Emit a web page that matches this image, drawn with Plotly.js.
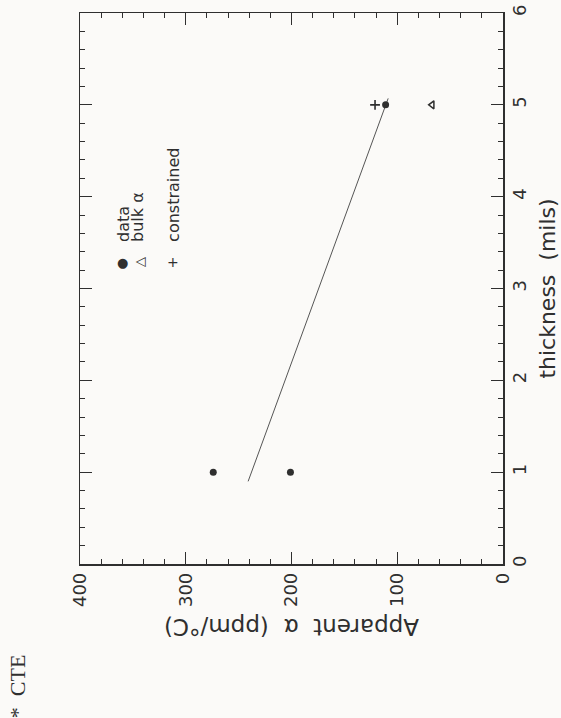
<!DOCTYPE html>
<html>
<head>
<meta charset="utf-8">
<script src="https://cdn.plot.ly/plotly-3.0.1.min.js"></script>
<style>
  html, body { margin: 0; padding: 0; background: #fbfaf8; }
  #chart { width: 561px; height: 718px; }
</style>
</head>
<body>
<div id="chart"></div>
<script>
// thickness (mils) and apparent alpha (ppm/°C)
var dataThickness = [1, 1, 5];
var dataAlpha = [274, 201, 111];
var bulkThickness = [5];
var bulkAlpha = [67];
var constrThickness = [5];
var constrAlpha = [121];
var fitThickness = [0.9, 5.07];
var fitAlpha = [241, 108.6];
var alphaTicks = [0, 100, 200, 300, 400];
var thickTicks = [0, 1, 2, 3, 4, 5, 6];
var legendNames = ['data', 'bulk α', 'constrained'];

var ink = '#2f2f2f';
var font = 'DejaVu Sans, sans-serif';

var traces = [
  { x: fitAlpha, y: fitThickness, mode: 'lines', line: { color: '#555', width: 1 }, hoverinfo: 'skip' },
  { x: dataAlpha, y: dataThickness, mode: 'markers', name: legendNames[0],
    marker: { symbol: 'circle', size: 7, color: ink } },
  { x: bulkAlpha, y: bulkThickness, mode: 'markers', name: legendNames[1],
    marker: { symbol: 'triangle-left-open', size: 7, color: ink, line: { width: 1.5, color: ink } } },
  { x: constrAlpha, y: constrThickness, mode: 'markers', name: legendNames[2],
    marker: { symbol: 'cross-thin-open', size: 7, color: ink, line: { width: 1.6, color: ink } } }
];

var axisCommon = {
  showline: true, linecolor: ink, linewidth: 1.5, mirror: 'allticks',
  ticks: 'inside', ticklen: 12, tickwidth: 1.2, tickcolor: ink,
  showgrid: false, zeroline: false,
  tickfont: { family: font, size: 18, color: ink },
  tickangle: -90
};

var layout = {
  width: 561, height: 718,
  paper_bgcolor: '#fbfaf8', plot_bgcolor: '#fbfaf8',
  margin: { l: 80, r: 58, t: 13, b: 154 },
  showlegend: false,
  xaxis: Object.assign({}, axisCommon, {
    range: [400, 0], tickvals: alphaTicks, ticktext: alphaTicks.map(String),
    minor: { dtick: 20, ticks: 'inside', ticklen: 5, tickwidth: 1, tickcolor: ink }
  }),
  yaxis: Object.assign({}, axisCommon, {
    side: 'right', range: [0, 6], tickvals: thickTicks, ticktext: thickTicks.map(String),
    minor: { dtick: 0.2, ticks: 'inside', ticklen: 5, tickwidth: 1, tickcolor: ink },
    title: { text: 'thickness  (mils)', font: { family: font, size: 22, color: ink }, standoff: 10 }
  }),
  annotations: [
    { xref: 'paper', yref: 'paper', x: 0.5, y: -0.114, xanchor: 'center', yanchor: 'middle',
      text: 'Apparent  α  (ppm/°C)', textangle: 180, showarrow: false,
      font: { family: font, size: 23, color: ink } },
    { xref: 'paper', yref: 'paper', x: -0.147, y: -0.222, xanchor: 'center', yanchor: 'middle',
      text: '*  CTE', textangle: -90, showarrow: false,
      font: { family: 'Liberation Serif, serif', size: 22, color: ink } },
    // legend symbols
    { xref: 'paper', yref: 'paper', x: 0.0993, y: 0.548, xanchor: 'center', yanchor: 'middle',
      text: '●', showarrow: false, font: { family: font, size: 13, color: ink } },
    { xref: 'paper', yref: 'paper', x: 0.1395, y: 0.548, xanchor: 'center', yanchor: 'middle',
      text: '△', textangle: -90, showarrow: false, font: { family: font, size: 13, color: ink } },
    { xref: 'paper', yref: 'paper', x: 0.2199, y: 0.548, xanchor: 'center', yanchor: 'middle',
      text: '+', showarrow: false, font: { family: font, size: 14, color: ink } },
    // legend labels
    { xref: 'paper', yref: 'paper', x: 0.104, y: 0.5808, xanchor: 'center', yanchor: 'bottom',
      text: legendNames[0], textangle: -90, showarrow: false, font: { family: font, size: 16, color: ink } },
    { xref: 'paper', yref: 'paper', x: 0.137, y: 0.5808, xanchor: 'center', yanchor: 'bottom',
      text: legendNames[1], textangle: -90, showarrow: false, font: { family: font, size: 16, color: ink } },
    { xref: 'paper', yref: 'paper', x: 0.222, y: 0.5808, xanchor: 'center', yanchor: 'bottom',
      text: legendNames[2], textangle: -90, showarrow: false, font: { family: font, size: 16, color: ink } }
  ]
};

Plotly.newPlot('chart', traces, layout, { staticPlot: true, displayModeBar: false });
</script>
</body>
</html>
